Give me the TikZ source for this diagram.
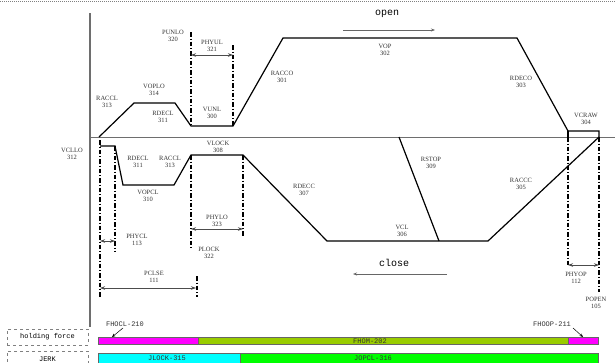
\documentclass[tikz,border=0pt]{standalone}
\usepackage{fontspec}
\setmainfont{Liberation Serif}
\setmonofont{Liberation Mono}
\usetikzlibrary{arrows.meta}
\definecolor{axisgray}{RGB}{110,110,110}
\definecolor{olive}{RGB}{153,204,0}
\definecolor{mag}{RGB}{255,0,255}
\definecolor{cyanbar}{RGB}{0,255,255}
\definecolor{greenbar}{RGB}{0,255,0}
\tikzset{
  lbl/.style={font=\fontsize{6.5}{7.5}\selectfont, align=center, inner sep=0pt, text=black!80},
  curve/.style={line width=1.2pt, black, line join=miter},
  axisline/.style={line width=1.4pt, axisgray},
  haxis/.style={line width=1pt, axisgray},
  dd/.style={line width=1.2pt, black, dash pattern=on 4.5pt off 2pt on 1pt off 2pt},
  dim/.style={line width=0.6pt, black!70, {Stealth[length=5pt,width=3.5pt]}-{Stealth[length=5pt,width=3.5pt]}},
  dirarrow/.style={line width=0.6pt, black!60, -{Stealth[length=4pt,width=3pt]}},
  mono/.style={font=\fontsize{7}{8}\ttfamily, inner sep=0pt, text=black!80},
  bigmono/.style={font=\fontsize{10}{11}\ttfamily, inner sep=0pt},
  bar/.style={draw=black!60, line width=0.5pt},
  sidebox/.style={draw=black!50, dashed, line width=0.4pt, minimum width=81pt, minimum height=16pt, inner sep=0pt, font=\fontsize{7}{8}\ttfamily}
}
\begin{document}
\begin{tikzpicture}[x=1pt,y=-1pt]
\useasboundingbox (0,0) rectangle (615,362);
% top border
\draw[black!50, line width=0.4pt, dash pattern=on 1pt off 1pt] (0,1) -- (615,1);
% axes
\draw[axisline] (90,13) -- (90,327);
\draw[haxis] (90,137) -- (615,137);
% open curve
\draw[curve] (99,137) -- (134,103) -- (175,103) -- (191,126) -- (233,126) -- (283,38) -- (517,38) -- (568,131) -- (599,131) -- (599,137);
\draw[curve] (568,131) -- (568,137);
% close curve
\draw[curve] (100,146) -- (115,146) -- (123,185) -- (174,185) -- (191,155) -- (243,155) -- (327,241) -- (488,241) -- (599,137);
\draw[curve] (399,137) -- (439,241);
% dash-dot verticals
\draw[dd] (100,140) -- (100,298);
\draw[dd] (115,146) -- (115,252);
\draw[dd] (191,32) -- (191,126);
\draw[dd] (191,155) -- (191,250);
\draw[dd] (233,45) -- (233,126);
\draw[dd] (243,155) -- (243,237);
\draw[dd] (197,276) -- (197,297);
\draw[dd] (568,137) -- (568,265);
\draw[dd] (599,137) -- (599,292);
% dimension arrows
\coordinate (phyulA) at (191,55); \coordinate (phyulB) at (233,55);
\draw[dim] (phyulA) -- (phyulB);
\coordinate (phyclA) at (100,241); \coordinate (phyclB) at (115,241);
\draw[dim] (phyclA) -- (phyclB);
\coordinate (pclseA) at (100,288); \coordinate (pclseB) at (196,288);
\draw[dim] (pclseA) -- (pclseB);
\coordinate (phyloA) at (191,229); \coordinate (phyloB) at (243,229);
\draw[dim] (phyloA) -- (phyloB);
\coordinate (phyopA) at (568,265); \coordinate (phyopB) at (599,265);
\draw[dim] (phyopA) -- (phyopB);
% direction arrows
\node[bigmono] (open) at (387,14) {open};
\coordinate (openA) at (343,30); \coordinate (openB) at (435,30);
\draw[dirarrow] (openA) -- (openB);
\node[bigmono] (close) at (394,263) {close};
\coordinate (closeA) at (447,274); \coordinate (closeB) at (353,274);
\draw[dirarrow] (closeA) -- (closeB);
% labels upper
\node[lbl] (l313a) at (107,102) {RACCL\\313};
\node[lbl] (l314) at (154,90) {VOPLO\\314};
\node[lbl] (l311a) at (163,117) {RDECL\\311};
\node[lbl] (l320) at (173,36) {PUNLO\\320};
\node[lbl] (l321) at (212,46) {PHYUL\\321};
\node[lbl] (l300) at (212,113) {VUNL\\300};
\node[lbl] (l301) at (282,77) {RACCO\\301};
\node[lbl] (l302) at (385,50) {VOP\\302};
\node[lbl] (l303) at (521,82) {RDECO\\303};
\node[lbl] (l304) at (586,119) {VCRAW\\304};
% labels lower
\node[lbl] (l312) at (72,154) {VCLLO\\312};
\node[lbl] (l311b) at (138,162) {RDECL\\311};
\node[lbl] (l313b) at (170,162) {RACCL\\313};
\node[lbl] (l310) at (148,196) {VOPCL\\310};
\node[lbl] (l113) at (137,240) {PHYCL\\113};
\node[lbl] (l111) at (154,277) {PCLSE\\111};
\node[lbl] (l308) at (218,147) {VLOCK\\308};
\node[lbl] (l323) at (217,221) {PHYLO\\323};
\node[lbl] (l322) at (209,253) {PLOCK\\322};
\node[lbl] (l307) at (304,190) {RDECC\\307};
\node[lbl] (l306) at (402,231) {VCL\\306};
\node[lbl] (l309) at (431,163) {RSTOP\\309};
\node[lbl] (l305) at (521,184) {RACCC\\305};
\node[lbl] (l112) at (576,278) {PHYOP\\112};
\node[lbl] (l105) at (596,303) {POPEN\\105};
% side boxes
\node[sidebox] (hf) at (47.5,337) {holding force};
\node[sidebox, anchor=north] (jerk) at (47.5,351) {JERK};
% holding force bar
\fill[mag] (98,337) rectangle (198,344);
\fill[olive] (198,337) rectangle (568,344);
\fill[mag] (568,337) rectangle (598,344);
\draw[bar] (98,337) rectangle (598,344);
\draw[black!60, line width=0.4pt] (198,337) -- (198,344) (568,337) -- (568,344);
\node[mono] (fhom) at (370,341) {FHOM-202};
% jerk bar
\fill[cyanbar] (98,353) rectangle (240,363);
\fill[greenbar] (240,353) rectangle (598,363);
\draw[bar] (98,363) -- (98,353) -- (598,353) -- (598,363);
\draw[black!60, line width=0.4pt] (240,353) -- (240,363);
\node[mono] (jlock) at (167,358) {JLOCK-315};
\node[mono] (jopcl) at (373,358) {JOPCL-316};
% callouts
\node[mono] (fhocl) at (125,324) {FHOCL-210};
\coordinate (fhoclT) at (112,337);
\draw[line width=0.5pt, black, -{Stealth[length=3.5pt,width=3pt]}] (fhocl.south west) ++(17,1.5) -- (fhoclT);
\node[mono] (fhoop) at (552,324) {FHOOP-211};
\coordinate (fhoopT) at (583,337);
\draw[line width=0.5pt, black, -{Stealth[length=3.5pt,width=3pt]}] (fhoop.south east) ++(2,1.5) -- (fhoopT);
\end{tikzpicture}
\end{document}
